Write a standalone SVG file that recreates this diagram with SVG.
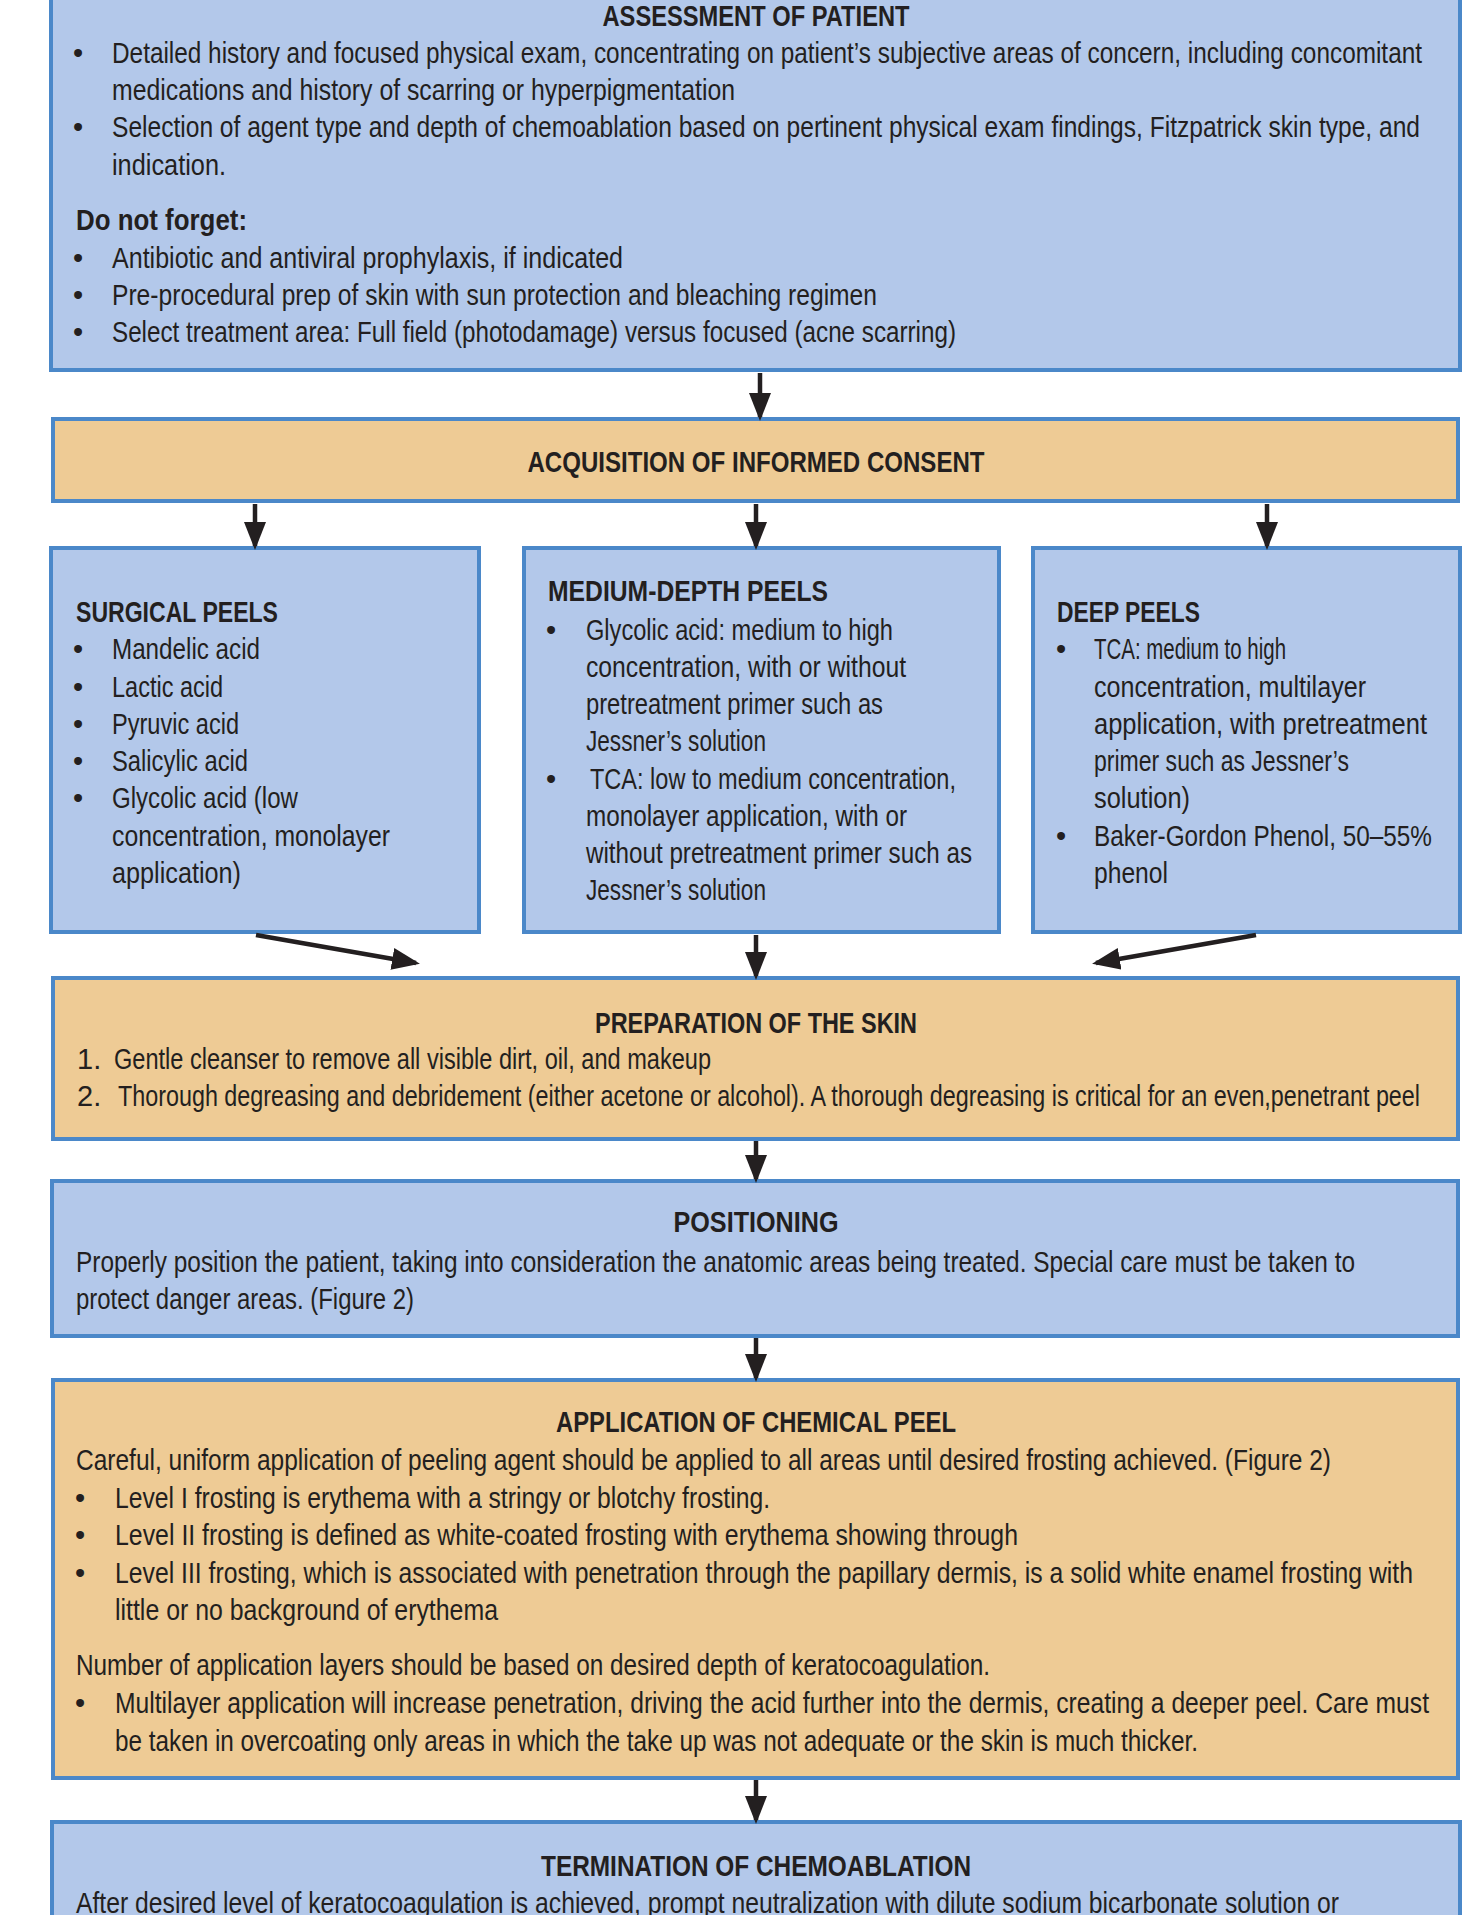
<svg xmlns="http://www.w3.org/2000/svg" width="1473" height="1915" viewBox="0 0 1473 1915">
<defs>
<style>
.blue{fill:#b3c8ea;stroke:#4b88c9;stroke-width:4}
.tan{fill:#eecb95;stroke:#4b88c9;stroke-width:4}
text{font-family:"Liberation Sans",Arial,sans-serif;font-size:29px;fill:#231f20}
.t{font-weight:700;font-size:30px}
.c{text-anchor:middle}
.conn{stroke:#231f20;stroke-width:4.5;fill:none;marker-end:url(#ah)}
</style>
<marker id="ah" markerUnits="userSpaceOnUse" viewBox="0 0 28 22" markerWidth="28" markerHeight="22" refX="24" refY="11" orient="auto">
<path d="M0,0 L28,11 L0,22 z" fill="#231f20"/>
</marker>
</defs>
<rect width="1473" height="1915" fill="#ffffff"/>

<g id="assessment">
<rect class="blue" x="51" y="-10" width="1409" height="380"/>
<text class="t c" x="756" y="26" textLength="307" lengthAdjust="spacingAndGlyphs">ASSESSMENT OF PATIENT</text>
<text x="73" y="63">•</text>
<text x="112" y="63" textLength="1310" lengthAdjust="spacingAndGlyphs">Detailed history and focused physical exam, concentrating on patient’s subjective areas of concern, including concomitant</text>
<text x="112" y="100" textLength="623" lengthAdjust="spacingAndGlyphs">medications and history of scarring or hyperpigmentation</text>
<text x="73" y="137">•</text>
<text x="112" y="137" textLength="1308" lengthAdjust="spacingAndGlyphs">Selection of agent type and depth of chemoablation based on pertinent physical exam findings, Fitzpatrick skin type, and</text>
<text x="112" y="175" textLength="114" lengthAdjust="spacingAndGlyphs">indication.</text>
<text class="t" x="76" y="230" textLength="171" lengthAdjust="spacingAndGlyphs">Do not forget:</text>
<text x="73" y="268">•</text>
<text x="112" y="268" textLength="511" lengthAdjust="spacingAndGlyphs">Antibiotic and antiviral prophylaxis, if indicated</text>
<text x="73" y="305">•</text>
<text x="112" y="305" textLength="765" lengthAdjust="spacingAndGlyphs">Pre-procedural prep of skin with sun protection and bleaching regimen</text>
<text x="73" y="342">•</text>
<text x="112" y="342" textLength="844" lengthAdjust="spacingAndGlyphs">Select treatment area: Full field (photodamage) versus focused (acne scarring)</text>
</g>

<g id="consent">
<rect class="tan" x="53" y="419" width="1405" height="82"/>
<text class="t c" x="756" y="472" textLength="457" lengthAdjust="spacingAndGlyphs">ACQUISITION OF INFORMED CONSENT</text>
</g>

<g id="surgical">
<rect class="blue" x="51" y="548" width="428" height="384"/>
<text class="t" x="76" y="622" textLength="202" lengthAdjust="spacingAndGlyphs">SURGICAL PEELS</text>
<text x="73" y="659">•</text>
<text x="112" y="659" textLength="148" lengthAdjust="spacingAndGlyphs">Mandelic acid</text>
<text x="73" y="697">•</text>
<text x="112" y="697" textLength="111" lengthAdjust="spacingAndGlyphs">Lactic acid</text>
<text x="73" y="734">•</text>
<text x="112" y="734" textLength="127" lengthAdjust="spacingAndGlyphs">Pyruvic acid</text>
<text x="73" y="771">•</text>
<text x="112" y="771" textLength="136" lengthAdjust="spacingAndGlyphs">Salicylic acid</text>
<text x="73" y="808">•</text>
<text x="112" y="808" textLength="186" lengthAdjust="spacingAndGlyphs">Glycolic acid (low</text>
<text x="112" y="846" textLength="278" lengthAdjust="spacingAndGlyphs">concentration, monolayer</text>
<text x="112" y="883" textLength="129" lengthAdjust="spacingAndGlyphs">application)</text>
</g>

<g id="medium">
<rect class="blue" x="524" y="548" width="475" height="384"/>
<text class="t" x="548" y="601" textLength="280" lengthAdjust="spacingAndGlyphs">MEDIUM-DEPTH PEELS</text>
<text x="546" y="640">•</text>
<text x="586" y="640" textLength="307" lengthAdjust="spacingAndGlyphs">Glycolic acid: medium to high</text>
<text x="586" y="677" textLength="320" lengthAdjust="spacingAndGlyphs">concentration, with or without</text>
<text x="586" y="714" textLength="297" lengthAdjust="spacingAndGlyphs">pretreatment primer such as</text>
<text x="586" y="751" textLength="180" lengthAdjust="spacingAndGlyphs">Jessner’s solution</text>
<text x="546" y="789">•</text>
<text x="590" y="789" textLength="366" lengthAdjust="spacingAndGlyphs">TCA: low to medium concentration,</text>
<text x="586" y="826" textLength="321" lengthAdjust="spacingAndGlyphs">monolayer application, with or</text>
<text x="586" y="863" textLength="386" lengthAdjust="spacingAndGlyphs">without pretreatment primer such as</text>
<text x="586" y="900" textLength="180" lengthAdjust="spacingAndGlyphs">Jessner’s solution</text>
</g>

<g id="deep">
<rect class="blue" x="1033" y="548" width="427" height="384"/>
<text class="t" x="1057" y="622" textLength="143" lengthAdjust="spacingAndGlyphs">DEEP PEELS</text>
<text x="1056" y="659">•</text>
<text x="1094" y="659" textLength="192" lengthAdjust="spacingAndGlyphs">TCA: medium to high</text>
<text x="1094" y="697" textLength="272" lengthAdjust="spacingAndGlyphs">concentration, multilayer</text>
<text x="1094" y="734" textLength="333" lengthAdjust="spacingAndGlyphs">application, with pretreatment</text>
<text x="1094" y="771" textLength="255" lengthAdjust="spacingAndGlyphs">primer such as Jessner’s</text>
<text x="1094" y="808" textLength="96" lengthAdjust="spacingAndGlyphs">solution)</text>
<text x="1056" y="846">•</text>
<text x="1094" y="846" textLength="338" lengthAdjust="spacingAndGlyphs">Baker-Gordon Phenol, 50–55%</text>
<text x="1094" y="883" textLength="74" lengthAdjust="spacingAndGlyphs">phenol</text>
</g>

<g id="preparation">
<rect class="tan" x="53" y="978" width="1405" height="161"/>
<text class="t c" x="756" y="1033" textLength="322" lengthAdjust="spacingAndGlyphs">PREPARATION OF THE SKIN</text>
<text x="77" y="1069">1.</text>
<text x="114" y="1069" textLength="597" lengthAdjust="spacingAndGlyphs">Gentle cleanser to remove all visible dirt, oil, and makeup</text>
<text x="77" y="1106">2.</text>
<text x="118" y="1106" textLength="1302" lengthAdjust="spacingAndGlyphs">Thorough degreasing and debridement (either acetone or alcohol). A thorough degreasing is critical for an even,penetrant peel</text>
</g>

<g id="positioning">
<rect class="blue" x="52" y="1181" width="1406" height="155"/>
<text class="t c" x="756" y="1232" textLength="165" lengthAdjust="spacingAndGlyphs">POSITIONING</text>
<text x="76" y="1272" textLength="1279" lengthAdjust="spacingAndGlyphs">Properly position the patient, taking into consideration the anatomic areas being treated. Special care must be taken to</text>
<text x="76" y="1309" textLength="338" lengthAdjust="spacingAndGlyphs">protect danger areas. (Figure 2)</text>
</g>

<g id="application">
<rect class="tan" x="53" y="1380" width="1405" height="398"/>
<text class="t c" x="756" y="1432" textLength="400" lengthAdjust="spacingAndGlyphs">APPLICATION OF CHEMICAL PEEL</text>
<text x="76" y="1470" textLength="1255" lengthAdjust="spacingAndGlyphs">Careful, uniform application of peeling agent should be applied to all areas until desired frosting achieved. (Figure 2)</text>
<text x="75" y="1508">•</text>
<text x="115" y="1508" textLength="655" lengthAdjust="spacingAndGlyphs">Level I frosting is erythema with a stringy or blotchy frosting.</text>
<text x="75" y="1545">•</text>
<text x="115" y="1545" textLength="903" lengthAdjust="spacingAndGlyphs">Level II frosting is defined as white-coated frosting with erythema showing through</text>
<text x="75" y="1583">•</text>
<text x="115" y="1583" textLength="1298" lengthAdjust="spacingAndGlyphs">Level III frosting, which is associated with penetration through the papillary dermis, is a solid white enamel frosting with</text>
<text x="115" y="1620" textLength="383" lengthAdjust="spacingAndGlyphs">little or no background of erythema</text>
<text x="76" y="1675" textLength="914" lengthAdjust="spacingAndGlyphs">Number of application layers should be based on desired depth of keratocoagulation.</text>
<text x="75" y="1713">•</text>
<text x="115" y="1713" textLength="1314" lengthAdjust="spacingAndGlyphs">Multilayer application will increase penetration, driving the acid further into the dermis, creating a deeper peel. Care must</text>
<text x="115" y="1751" textLength="1083" lengthAdjust="spacingAndGlyphs">be taken in overcoating only areas in which the take up was not adequate or the skin is much thicker.</text>
</g>

<g id="termination">
<rect class="blue" x="52" y="1822" width="1408" height="120"/>
<text class="t c" x="756" y="1876" textLength="430" lengthAdjust="spacingAndGlyphs">TERMINATION OF CHEMOABLATION</text>
<text x="76" y="1913" textLength="1263" lengthAdjust="spacingAndGlyphs">After desired level of keratocoagulation is achieved, prompt neutralization with dilute sodium bicarbonate solution or</text>
</g>

<g id="connectors">
<line class="conn" x1="760" y1="373" x2="760" y2="417"/>
<line class="conn" x1="255" y1="504" x2="255" y2="546"/>
<line class="conn" x1="756" y1="504" x2="756" y2="546"/>
<line class="conn" x1="1267" y1="504" x2="1267" y2="546"/>
<line class="conn" x1="256" y1="935" x2="416" y2="963"/>
<line class="conn" x1="756" y1="935" x2="756" y2="976"/>
<line class="conn" x1="1256" y1="935" x2="1096" y2="963"/>
<line class="conn" x1="756" y1="1141" x2="756" y2="1179"/>
<line class="conn" x1="756" y1="1338" x2="756" y2="1378"/>
<line class="conn" x1="756" y1="1780" x2="756" y2="1820"/>
</g>
</svg>
